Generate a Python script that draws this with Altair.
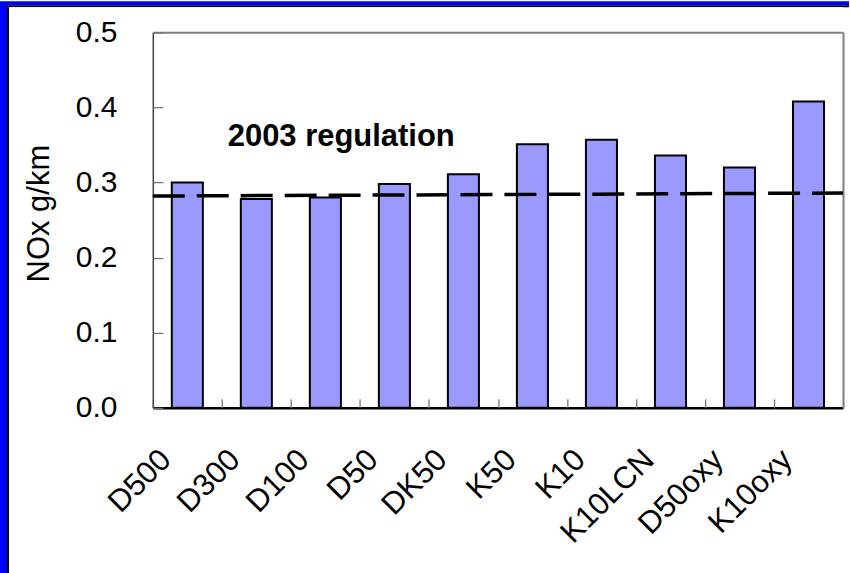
import altair as alt
import pandas as pd

# NOx emissions per test engine/fuel configuration (g/km)
engines = ["D500", "D300", "D100", "D50", "DK50", "K50", "K10", "K10LCN", "D50oxy", "K10oxy"]
nox = [0.300, 0.278, 0.280, 0.298, 0.311, 0.351, 0.357, 0.336, 0.320, 0.408]

# 2003 regulation limit, drawn across the plot (relative position 0..1)
reg_pos = [0.0, 1.0]
reg_nox = [0.282, 0.286]

# annotation for the regulation line
note_text = ["2003 regulation"]
note_pos = [0.273]
note_nox = [0.360]

y_ticks = [0.0, 0.1, 0.2, 0.3, 0.4, 0.5]

W, H = 691, 376
FONT = "Liberation Sans"
BLUE = "#0000FF"

bars_df = pd.DataFrame({"engine": engines, "nox": nox})
reg_df = pd.DataFrame({"pos": reg_pos, "nox": reg_nox})
note_df = pd.DataFrame({"text": note_text, "pos": note_pos, "nox": note_nox})

y_scale = alt.Scale(domain=[0, 0.5], nice=False, zero=True)
band_scale = alt.Scale(paddingInner=0, paddingOuter=0)
unit_scale = alt.Scale(domain=[0, 1], nice=False, zero=False)

bars = alt.Chart(bars_df).mark_bar(
    color="#9999FF", stroke="black", strokeWidth=2, width=alt.RelativeBandSize(0.45)
).encode(
    x=alt.X("engine:N", sort=engines, scale=band_scale,
            axis=alt.Axis(title=None, labelAngle=-45, labelAlign="right", labelBaseline="middle",
                          labelFont=FONT, labelFontSize=31, labelColor="black",
                          labelPadding=47, labelOffset=-21, ticks=False,
                          domainColor="black", domainWidth=2.5)),
    y=alt.Y("nox:Q", scale=y_scale,
            axis=alt.Axis(title="NOx g/km", values=y_ticks, format=".1f", ticks=False, grid=False,
                          labelFont=FONT, labelFontSize=30, labelColor="black", labelPadding=36,
                          titleFont=FONT, titleFontSize=31, titleFontWeight="normal",
                          titleColor="black", titlePadding=20, titleY=181,
                          domainColor="#404040", domainWidth=1.5)),
)

# inward tick marks along the category axis, at the band boundaries
x_inner_ticks = alt.Chart(bars_df).mark_point(opacity=0).encode(
    x=alt.X("engine:N", sort=engines, scale=band_scale,
            axis=alt.Axis(title=None, orient="bottom", offset=-9, tickSize=9, tickBand="extent",
                          domain=False, labels=False, tickColor="#707070", tickWidth=1.2)),
    y=alt.Y("nox:Q", scale=y_scale, axis=None),
)

# inward tick marks along the value axis
y_inner_ticks = alt.Chart(bars_df).mark_point(opacity=0).encode(
    x=alt.X("engine:N", sort=engines, scale=band_scale, axis=None),
    y=alt.Y("nox:Q", scale=y_scale,
            axis=alt.Axis(title=None, orient="left", offset=-10, tickSize=10, values=y_ticks,
                          domain=False, labels=False, grid=False,
                          tickColor="#707070", tickWidth=1.2)),
)

# right edge of the plot frame
right_frame = alt.Chart(bars_df).mark_point(opacity=0).encode(
    x=alt.X("engine:N", sort=engines, scale=band_scale, axis=None),
    y=alt.Y("nox:Q", scale=y_scale,
            axis=alt.Axis(title=None, orient="right", ticks=False, labels=False, grid=False,
                          domainColor="#808080", domainWidth=2)),
)

# regulation limit as a dashed line; its x axis forms the top edge of the frame
reg_line = alt.Chart(reg_df).mark_line(
    color="black", strokeWidth=3.5, strokeDash=[32, 12]
).encode(
    x=alt.X("pos:Q", scale=unit_scale,
            axis=alt.Axis(title=None, orient="top", ticks=False, labels=False, grid=False,
                          domainColor="#808080", domainWidth=2)),
    y=alt.Y("nox:Q", scale=y_scale, axis=None),
)

reg_note = alt.Chart(note_df).mark_text(
    font=FONT, fontSize=31, fontWeight="bold", color="black", align="center", baseline="middle"
).encode(
    x=alt.X("pos:Q", scale=unit_scale, axis=None),
    y=alt.Y("nox:Q", scale=y_scale, axis=None),
    text="text:N",
)

main = alt.layer(
    bars, x_inner_ticks, y_inner_ticks, right_frame, reg_line, reg_note
).resolve_scale(x="independent", y="independent").properties(
    width=W, height=H, view=alt.ViewBackground(stroke="transparent")
)


def panel(w, h, fill):
    """Plain filled block used for the slide frame and spacing."""
    return alt.Chart(pd.DataFrame({"v": [0]})).mark_point(opacity=0).encode(
        x=alt.X("v:Q", axis=None), y=alt.Y("v:Q", axis=None)
    ).properties(width=w, height=h, view=alt.ViewBackground(fill=fill, stroke="transparent"))


row = alt.hconcat(panel(144, H, "white"), main, spacing=0, bounds="flush")
inner = alt.vconcat(panel(835, 25, "white"), row, spacing=0, bounds="flush")
body = alt.hconcat(panel(2, 567, "black"), inner, spacing=0, bounds="flush")
right = alt.vconcat(panel(843, 4, BLUE), panel(843, 2, "black"), body, spacing=0, bounds="flush")
chart = alt.hconcat(panel(7, 573, BLUE), right, spacing=0, bounds="flush").properties(
    padding=0, background="white"
).configure_view(strokeWidth=0)

chart.save("out.html", embed_options={"renderer": "svg", "actions": False})
